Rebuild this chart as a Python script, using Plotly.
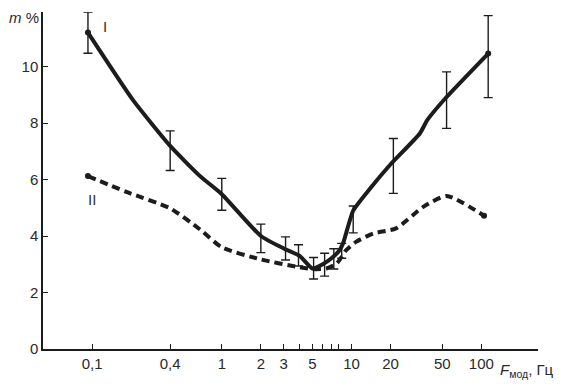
import plotly.graph_objects as go

# Curve I (solid) — smooth line
curve1_x = [0.093, 0.207, 0.4, 0.68, 1.0, 2.0, 3.0, 4.0, 5.0, 6.0, 7.0, 8.0, 8.6, 10.3, 14.0, 20.0, 33.6, 38.3, 54.0, 113.0]
curve1_y = [11.2, 8.81, 7.19, 6.12, 5.48, 4.0, 3.56, 3.29, 2.85, 3.0, 3.21, 3.47, 3.74, 4.9, 5.7, 6.54, 7.63, 8.1, 8.92, 10.46]

# Curve I measurements with error bars
meas_x = [0.093, 0.4, 1.0, 2.0, 3.1, 3.9, 5.1, 6.2, 7.3, 8.4, 10.3, 21.0, 54.0, 113.0]
meas_y = [11.2, 7.19, 5.48, 4.01, 3.56, 3.29, 2.83, 3.0, 3.21, 3.47, 4.68, 6.54, 8.92, 10.46]
err_plus = [0.73, 0.53, 0.56, 0.41, 0.41, 0.40, 0.41, 0.39, 0.34, 0.27, 0.38, 0.91, 0.89, 1.34]
err_minus = [0.73, 0.87, 0.57, 0.60, 0.41, 0.35, 0.35, 0.42, 0.38, 0.26, 0.57, 1.03, 1.11, 1.56]

# Curve II (dashed)
curve2_x = [0.093, 0.184, 0.4, 0.68, 1.0, 2.0, 3.8, 5.0, 6.4, 7.7, 9.1, 10.9, 14.7, 22.0, 35.7, 54.0, 105.0]
curve2_y = [6.12, 5.56, 4.98, 4.23, 3.6, 3.17, 2.91, 2.83, 2.85, 3.03, 3.5, 3.8, 4.09, 4.27, 5.03, 5.42, 4.72]

tick_vals = [0.1, 0.4, 1, 2, 3, 4, 5, 6, 7, 8, 10, 20, 50, 100]
tick_text = ["0,1", "0,4", "1", "2", "3", "", "5", "", "", "", "10", "20", "50", "100"]
y_ticks = [0, 2, 4, 6, 8, 10]

ink = "#1c1c1c"
txt = "#2a2a2a"
font = "Liberation Sans, Arial, sans-serif"

fig = go.Figure()
fig.add_trace(go.Scatter(
    x=curve1_x, y=curve1_y, mode="lines",
    line=dict(color=ink, width=4, shape="spline", smoothing=0.5),
    hoverinfo="skip"))
fig.add_trace(go.Scatter(
    x=meas_x, y=meas_y, mode="markers",
    marker=dict(size=1, color="rgba(0,0,0,0)"),
    error_y=dict(type="data", symmetric=False, array=err_plus, arrayminus=err_minus,
                 color=ink, thickness=1.4, width=4.5)))
fig.add_trace(go.Scatter(
    x=curve2_x, y=curve2_y, mode="lines",
    line=dict(color=ink, width=4, shape="spline", smoothing=0.6, dash="8px,5px")))
# end dots
fig.add_trace(go.Scatter(
    x=[curve1_x[0], curve1_x[-1], curve2_x[0], curve2_x[-1]],
    y=[curve1_y[0], curve1_y[-1], curve2_y[0], curve2_y[-1]],
    mode="markers", marker=dict(size=6, color=ink)))

fig.update_layout(
    width=570, height=391,
    margin=dict(l=43, r=32, t=12, b=42),
    paper_bgcolor="white", plot_bgcolor="white",
    showlegend=False,
    font=dict(family=font, size=15, color=txt),
    xaxis=dict(type="log", range=[-1.378, 2.437],
               tickvals=tick_vals, ticktext=tick_text,
               ticks="inside", ticklen=5, tickwidth=1.3, tickcolor=ink,
               showline=True, linecolor=ink, linewidth=1.5,
               showgrid=False, zeroline=False,
               tickfont=dict(size=15, color=txt)),
    yaxis=dict(range=[0, 11.93], tickvals=y_ticks,
               ticks="inside", ticklen=5, tickwidth=1.3, tickcolor=ink,
               showline=True, linecolor=ink, linewidth=1.5,
               showgrid=False, zeroline=False,
               tickfont=dict(size=15, color=txt)),
)

fig.add_annotation(xref="paper", yref="paper", x=-0.072, y=0.985, xanchor="left", yanchor="middle",
                   text="<i>m</i> %", showarrow=False, font=dict(size=15, color=txt))
fig.add_annotation(xref="paper", yref="paper", x=0.92, y=-0.065, xanchor="left", yanchor="middle",
                   text="<i>F</i><sub>мод</sub>, Гц", showarrow=False, font=dict(size=15, color=txt))
fig.add_annotation(xref="x", yref="y", x=-0.9, y=11.4, xanchor="center", yanchor="middle",
                   text="I", showarrow=False, font=dict(size=15, color="#333333"))
fig.add_annotation(xref="x", yref="y", x=-1.0, y=5.3, xanchor="center", yanchor="middle",
                   text="II", showarrow=False, font=dict(size=15, color="#333333"))

fig.write_html("out.html")
